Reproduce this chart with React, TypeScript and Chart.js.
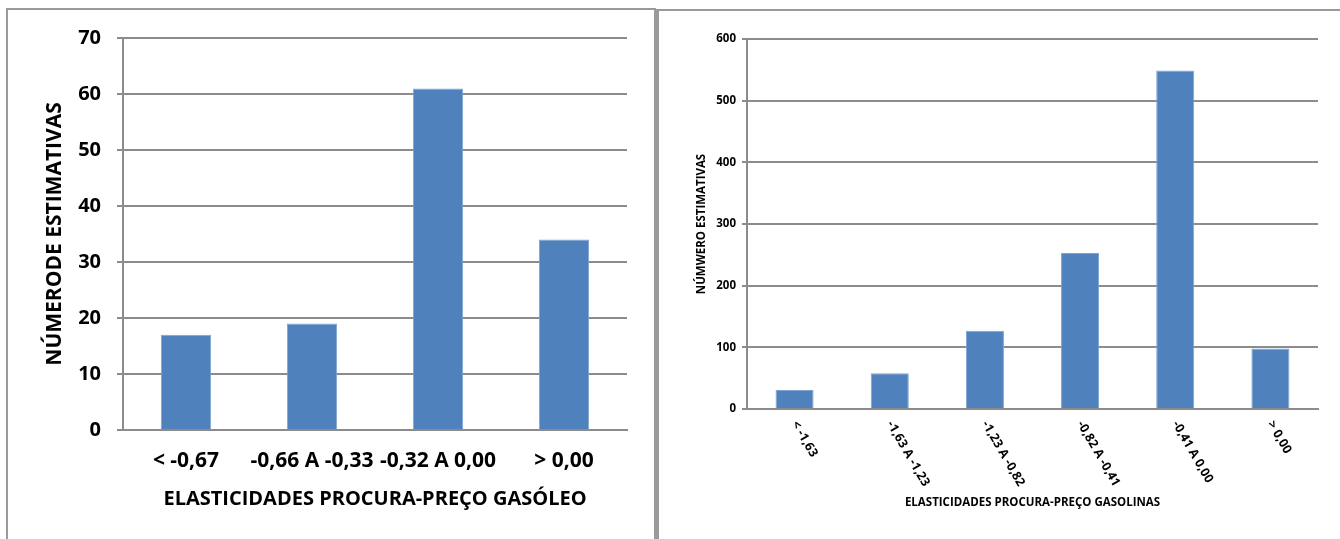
import React, { useEffect, useRef } from "react";
import { Chart, registerables } from "chart.js";

Chart.register(...registerables);

// Diesel price elasticity estimates
const dieselCategories = ["< -0,67", "-0,66 A -0,33", "-0,32 A 0,00", "> 0,00"];
const dieselCounts = [17, 19, 61, 34];
const dieselAxisMax = 70;
const dieselStep = 10;

// Gasoline price elasticity estimates
const gasolineCategories = [
  "< -1,63",
  "-1,63 A -1,23",
  "-1,23 A -0,82",
  "-0,82 A -0,41",
  "-0,41 A 0,00",
  "> 0,00",
];
const gasolineCounts = [31, 58, 127, 253, 549, 98];
const gasolineAxisMax = 600;
const gasolineStep = 100;

const FONT = '"Open Sans", "Noto Sans", sans-serif';
const BAR = "#4f81bd";
const BAR_EDGE = "#7fa3d3";
const LINE = "#8c8c8c";
const PANEL_LINE = "#9a9a9a";

// Draws category labels slanted downward to the right, starting at each bar's centre.
const slantedLabels = {
  id: "slantedLabels",
  afterDraw(chart: any, _args: any, opts: any) {
    if (!opts || !opts.enabled) return;
    const { ctx, chartArea } = chart;
    const xScale = chart.scales.x;
    const labels: string[] = chart.data.labels;
    ctx.save();
    ctx.font = `bold ${opts.size}px ${FONT}`;
    ctx.fillStyle = "#000";
    ctx.textAlign = "left";
    ctx.textBaseline = "middle";
    labels.forEach((label, i) => {
      const x = xScale.getPixelForValue(i);
      ctx.save();
      ctx.translate(x + opts.dx, chartArea.bottom + opts.dy);
      ctx.rotate((opts.angle * Math.PI) / 180);
      ctx.fillText(label, 0, 0);
      ctx.restore();
    });
    ctx.restore();
  },
};

type AxisSpec = {
  labels: string[];
  values: number[];
  max: number;
  step: number;
  xTitle: string;
  yTitle: string;
  tickSize: number;
  xTickSize: number;
  xTitleSize: number;
  yTitleSize: number;
  yAxisWidth: number;
  xAxisHeight: number;
  tickLength: number;
  tickPadding: number;
  xTickPadding: number;
  yTitleOffset: number;
  xTitleOffset: number;
  padTop: number;
  padRight: number;
  slanted: boolean;
};

function buildConfig(s: AxisSpec): any {
  const font = (size: number) => ({ family: FONT, size, weight: "bold" as const });
  return {
    type: "bar",
    data: {
      labels: s.labels,
      datasets: [
        {
          data: s.values,
          backgroundColor: BAR,
          borderColor: BAR_EDGE,
          borderWidth: 1,
          barPercentage: 0.4,
          categoryPercentage: 1,
        },
      ],
    },
    plugins: [slantedLabels],
    options: {
      responsive: false,
      animation: false,
      layout: { padding: { left: 0, top: s.padTop, right: s.padRight, bottom: 0 } },
      plugins: {
        legend: { display: false },
        tooltip: { enabled: false },
        slantedLabels: { enabled: s.slanted, size: s.xTickSize, angle: 60, dx: 0, dy: 13 },
      },
      scales: {
        x: {
          grid: { display: false, drawTicks: false },
          border: { display: true, color: LINE, width: 2 },
          ticks: {
            display: !s.slanted,
            color: "#000",
            font: font(s.xTickSize),
            padding: s.xTickPadding,
            maxRotation: 0,
            minRotation: 0,
            autoSkip: false,
          },
          title: {
            display: true,
            text: s.xTitle,
            color: "#000",
            font: font(s.xTitleSize),
            padding: { top: 0, bottom: s.xTitleOffset },
          },
          afterFit: (scale: any) => {
            scale.height = s.xAxisHeight;
          },
        },
        y: {
          min: 0,
          max: s.max,
          grid: { color: LINE, lineWidth: 2, drawTicks: true, tickLength: s.tickLength },
          border: { display: true, color: LINE, width: 2 },
          ticks: {
            stepSize: s.step,
            color: "#000",
            font: font(s.tickSize),
            padding: s.tickPadding,
          },
          title: {
            display: true,
            text: s.yTitle,
            color: "#000",
            font: font(s.yTitleSize),
            padding: { top: s.yTitleOffset, bottom: 0 },
          },
          afterFit: (scale: any) => {
            scale.width = s.yAxisWidth;
          },
        },
      },
    },
  };
}

function BarChart({
  spec,
  left,
  top,
  width,
  height,
}: {
  spec: AxisSpec;
  left: number;
  top: number;
  width: number;
  height: number;
}) {
  const ref = useRef<HTMLCanvasElement | null>(null);
  useEffect(() => {
    if (!ref.current) return;
    const chart = new Chart(ref.current, buildConfig(spec));
    return () => chart.destroy();
  }, [spec]);
  return (
    <canvas
      ref={ref}
      width={width}
      height={height}
      style={{ position: "absolute", left, top, width, height }}
    />
  );
}

const dieselSpec: AxisSpec = {
  labels: dieselCategories,
  values: dieselCounts,
  max: dieselAxisMax,
  step: dieselStep,
  xTitle: "ELASTICIDADES PROCURA-PREÇO GASÓLEO",
  yTitle: "NÚMERODE ESTIMATIVAS",
  tickSize: 20,
  xTickSize: 21,
  xTitleSize: 20,
  yTitleSize: 21,
  yAxisWidth: 114,
  xAxisHeight: 108,
  tickLength: 6,
  tickPadding: 16,
  xTickPadding: 18,
  yTitleOffset: 33,
  xTitleOffset: 27,
  padTop: 28,
  padRight: 28,
  slanted: false,
};

const gasolineSpec: AxisSpec = {
  labels: gasolineCategories,
  values: gasolineCounts,
  max: gasolineAxisMax,
  step: gasolineStep,
  xTitle: "ELASTICIDADES PROCURA-PREÇO GASOLINAS",
  yTitle: "NÚMWERO ESTIMATIVAS",
  tickSize: 11.5,
  xTickSize: 12.5,
  xTitleSize: 11.5,
  yTitleSize: 11.5,
  yAxisWidth: 87,
  xAxisHeight: 130,
  tickLength: 5,
  tickPadding: 6,
  xTickPadding: 0,
  yTitleOffset: 35,
  xTitleOffset: 29,
  padTop: 27,
  padRight: 22,
  slanted: true,
};

export default function App() {
  return (
    <div
      style={{
        position: "absolute",
        left: 0,
        top: 0,
        width: 1340,
        height: 539,
        overflow: "hidden",
        background: "#fff",
      }}
    >
      <div
        style={{
          position: "absolute",
          left: 6,
          top: 8,
          width: 650,
          height: 600,
          boxSizing: "border-box",
          border: `2px solid ${PANEL_LINE}`,
        }}
      />
      <div
        style={{
          position: "absolute",
          left: 656,
          top: 9,
          width: 720,
          height: 600,
          boxSizing: "border-box",
          borderLeft: `3px solid ${PANEL_LINE}`,
          borderTop: `2px solid ${PANEL_LINE}`,
        }}
      />
      <BarChart spec={dieselSpec} left={9} top={10} width={646} height={528} />
      <BarChart spec={gasolineSpec} left={660} top={12} width={680} height={527} />
    </div>
  );
}
